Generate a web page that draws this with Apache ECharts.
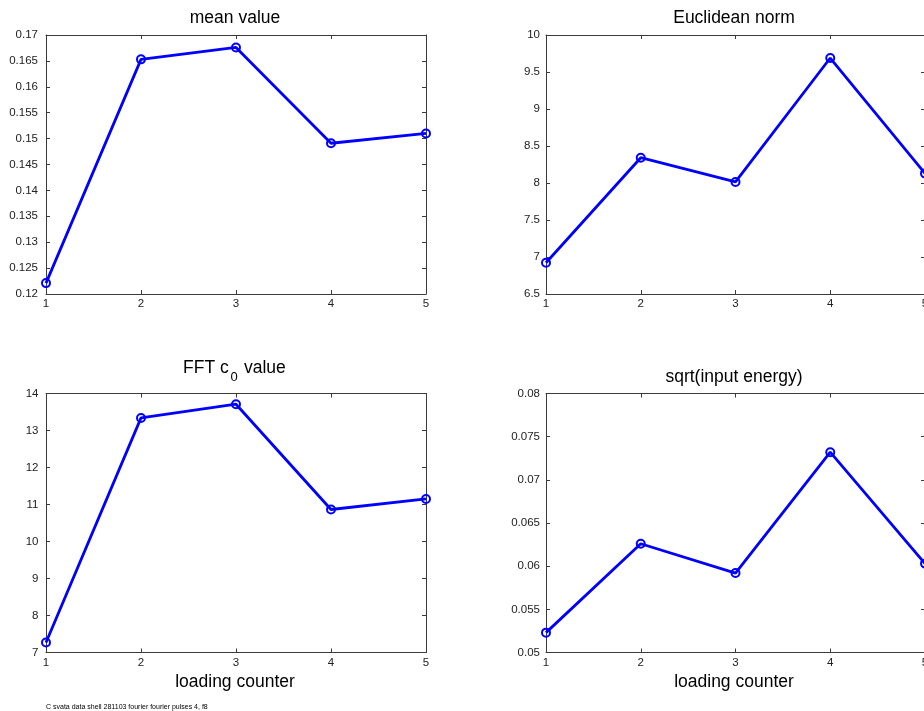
<!DOCTYPE html>
<html>
<head>
<meta charset="utf-8">
<script src="https://cdn.jsdelivr.net/npm/echarts@6/dist/echarts.min.js"></script>
<style>
html,body{margin:0;padding:0;background:#fff;}
#chart{width:924px;height:711px;}
</style>
</head>
<body>
<div id="chart"></div>
<script>
// ---- data ----
var counters = [1, 2, 3, 4, 5];
var meanValue = [0.1221, 0.1653, 0.1676, 0.1491, 0.1510];
var euclideanNorm = [6.923, 8.342, 8.014, 9.689, 8.13];
var fftC0 = [7.27, 13.34, 13.71, 10.865, 11.15];
var sqrtEnergy = [0.0523, 0.0626, 0.0592, 0.0732, 0.0603];

var yMeanTicks = {min: 0.12, max: 0.17, interval: 0.005};
var yEuclidTicks = {min: 6.5, max: 10, interval: 0.5};
var yFftTicks = {min: 7, max: 14, interval: 1};
var ySqrtTicks = {min: 0.05, max: 0.08, interval: 0.005};
var xTicks = {min: 1, max: 5, interval: 1};

var titles = ['mean value', 'Euclidean norm', 'FFT c', 'sqrt(input energy)'];
var xLabel = 'loading counter';
var footer = 'C svata data shell 281103 fourier fourier pulses 4, f8';

// ---- layout ----
var FONT = '"Liberation Sans", Arial, Helvetica, sans-serif';
var BLUE = '#0000ff';
var FRAME = '#3a3a3a';
var grids = [
  {left: 46, top: 35, width: 380, height: 259},
  {left: 546, top: 35, width: 379, height: 259},
  {left: 46, top: 393.5, width: 380, height: 259},
  {left: 546, top: 393.5, width: 379, height: 259}
];
grids.forEach(function (g) { g.outerBoundsMode = 'none'; g.containLabel = false; });
var yLabelMargins = [8, 6, 7.5, 6];
var ySpecs = [yMeanTicks, yEuclidTicks, yFftTicks, ySqrtTicks];
var seriesData = [meanValue, euclideanNorm, fftC0, sqrtEnergy];

function fmt(v) { return String(parseFloat(Number(v).toFixed(6))); }

var xAxes = [], yAxes = [], series = [];
grids.forEach(function (g, i) {
  var common = {
    gridIndex: i, type: 'value',
    axisLine: {show: true, onZero: false, lineStyle: {color: FRAME, width: 1}},
    axisTick: {show: true, inside: true, length: 4, lineStyle: {color: FRAME, width: 1}},
    splitLine: {show: false}
  };
  xAxes.push(Object.assign({}, common, {
    position: 'bottom', min: xTicks.min, max: xTicks.max, interval: xTicks.interval,
    axisLabel: {show: true, margin: 4, color: '#222', fontFamily: FONT, fontSize: 11.5,
      showMinLabel: true, showMaxLabel: true, formatter: fmt}
  }));
  xAxes.push(Object.assign({}, common, {
    position: 'top', min: xTicks.min, max: xTicks.max, interval: xTicks.interval,
    axisLabel: {show: false}
  }));
  var ys = ySpecs[i];
  yAxes.push(Object.assign({}, common, {
    position: 'left', min: ys.min, max: ys.max, interval: ys.interval,
    axisLabel: {show: true, margin: yLabelMargins[i], color: '#222', fontFamily: FONT, fontSize: 11.5,
      showMinLabel: true, showMaxLabel: true, formatter: fmt}
  }));
  yAxes.push(Object.assign({}, common, {
    position: 'right', min: ys.min, max: ys.max, interval: ys.interval,
    axisLabel: {show: false}
  }));
  series.push({
    type: 'line',
    xAxisIndex: i * 2, yAxisIndex: i * 2,
    data: counters.map(function (c, k) { return [c, seriesData[i][k]]; }),
    symbol: 'circle', symbolSize: 8,
    itemStyle: {color: 'rgba(0,0,0,0)', borderColor: BLUE, borderWidth: 2},
    lineStyle: {color: BLUE, width: 2.8},
    emphasis: {disabled: true},
    clip: false
  });
});

function txt(t, x, y, size, align, vAlign) {
  return {type: 'text', x: x, y: y, silent: true,
    style: {text: t, fill: '#000', font: size + 'px ' + FONT,
      textAlign: align || 'center', textVerticalAlign: vAlign || 'middle'}};
}

var graphics = [
  txt(titles[0], 235, 18, 17.5),
  txt(titles[1], 734, 18, 17.5),
  txt(titles[2], 183, 368, 17.5, 'left'),
  txt('0', 230.5, 377, 13, 'left'),
  txt('value', 244, 368, 17.5, 'left'),
  txt(titles[3], 734, 377, 17.5),
  txt(xLabel, 235, 682, 17.5),
  txt(xLabel, 734, 682, 17.5),
  txt(footer, 46, 707, 7, 'left')
];

var chart = echarts.init(document.getElementById('chart'), null, {renderer: 'canvas'});
chart.setOption({
  animation: false,
  backgroundColor: '#fff',
  grid: grids,
  xAxis: xAxes,
  yAxis: yAxes,
  series: series,
  graphic: graphics
});
</script>
</body>
</html>
